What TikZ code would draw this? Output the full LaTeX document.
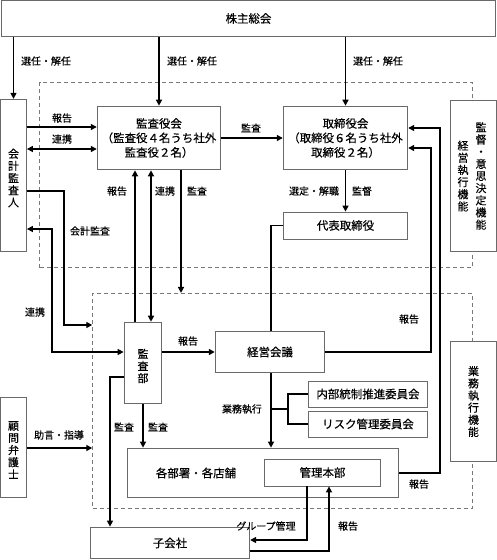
\documentclass[tikz,border=0pt]{standalone}
\usepackage{fontspec}
\setmainfont{Noto Sans CJK JP}[FakeBold=0.3]
\usetikzlibrary{arrows.meta}
\definecolor{boxgray}{HTML}{6A6A6A}
\definecolor{dashgray}{HTML}{787878}

\begin{document}
\begin{tikzpicture}[x=1bp,y=-1bp,
    box/.style={draw=boxgray, line width=0.9bp, fill=white, inner sep=0pt, align=center,
      font=\fontsize{11.5}{14.5}\selectfont},
    tate/.style={inner sep=0pt, align=center, font=\fontsize{11}{12.2}\selectfont},
    grp/.style={draw=dashgray, dash pattern=on 4bp off 3bp, line width=0.9bp, inner sep=0pt},
    wire/.style={line width=1.4bp},
    arr/.style={wire, -{Triangle[length=6bp,width=6bp]}},
    dblarr/.style={wire, {Triangle[length=6bp,width=6bp]}-{Triangle[length=6bp,width=6bp]}},
    lbl/.style={inner sep=0pt, font=\fontsize{10}{12}\selectfont}]
    \useasboundingbox (0,0) rectangle (497,560);

    %% dashed frames first, the side boxes sit on top of them
    \node[grp, minimum width=434, minimum height=186] (upper) at (256,175) {};
    \node[grp, minimum width=381, minimum height=216] (lower) at (282.5,401) {};

    %% boxes
    \node[box, minimum width=496, minimum height=37] (soukai) at (248.5,18.5) {株主総会};
    \node[box, minimum width=26, minimum height=153] (kaikei) at (13.5,175.5) {};
    \node[tate] (kaikeiT) at (13.5,178) {会\\計\\監\\査\\人};
    \node[box, minimum width=124, minimum height=64] (kansayakukai) at (159,138)
      {監査役会\\（監査役４名うち社外\\監査役２名）};
    \node[box, minimum width=125, minimum height=64] (torishimari) at (345.5,138)
      {取締役会\\（取締役６名うち社外\\取締役２名）};
    \node[box, minimum width=125, minimum height=27] (daihyo) at (345.5,225.5) {代表取締役};
    \node[box, minimum width=46, minimum height=152] (kantoku) at (473.5,176) {};
    \node[tate] (kantokuR) at (481,176) {監\\督\\・\\意\\思\\決\\定\\機\\能};
    \node[tate] (kantokuL) at (463,176) {経\\営\\執\\行\\機\\能};
    \node[box, minimum width=38, minimum height=82] (kansabu) at (143,363) {};
    \node[tate] (kansabuT) at (143,366) {監\\査\\部};
    \node[box, minimum width=110, minimum height=42] (keiei) at (270,352) {経営会議};
    \node[box, minimum width=120, minimum height=26] (naibu) at (368,394) {内部統制推進委員会};
    \node[box, minimum width=120, minimum height=26] (risk) at (368,424) {リスク管理委員会};
    \node[box, minimum width=272, minimum height=50] (kakubu) at (263,473) {};
    \node[inner sep=0pt, font=\fontsize{11.5}{14}\selectfont] (kakubuT) at (196,473) {各部署・各店舗};
    \node[box, minimum width=117, minimum height=27] (kanri) at (322.5,472.5) {管理本部};
    \node[box, minimum width=46, minimum height=121] (gyomu) at (473.5,401.5) {};
    \node[tate] (gyomuT) at (473.5,401.5) {業\\務\\執\\行\\機\\能};
    \node[box, minimum width=26, minimum height=101] (komon) at (13.5,447.5) {};
    \node[tate] (komonT) at (13.5,450) {顧\\問\\弁\\護\\士};
    \node[box, minimum width=160, minimum height=32] (kogaisha) at (170,543) {子会社};

    %% from the general meeting
    \draw[arr] (soukai.south -| kaikei.north) -- (kaikei.north);
    \draw[arr] (soukai.south -| kansayakukai.north) -- (kansayakukai.north);
    \draw[arr] (soukai.south -| torishimari.north) -- (torishimari.north);
    \node[lbl] (lSen1) at (46,61) {選任・解任};
    \node[lbl] (lSen2) at (192,61) {選任・解任};
    \node[lbl] (lSen3) at (378,61) {選任・解任};

    %% auditor and audit board
    \draw[arr] (kaikei.east |- 0,127) -- (kansayakukai.west |- 0,127);
    \draw[dblarr] (kaikei.east |- 0,149) -- (kansayakukai.west |- 0,149);
    \node[lbl] (lHou1) at (62,118) {報告};
    \node[lbl] (lRen1) at (62,139) {連携};
    \draw[arr] (kansayakukai.east |- 0,138) -- (torishimari.west |- 0,138);
    \node[lbl] (lKan1) at (251,128) {監査};

    %% audit board and internal audit
    \draw[arr] (kansabu.north -| 135,0) -- (kansayakukai.south -| 135,0);
    \draw[dblarr] (kansabu.north -| 151,0) -- (kansayakukai.south -| 151,0);
    \draw[arr] (kansayakukai.south -| 181,0) -- (lower.north -| 181,0);
    \node[lbl] (lHou2) at (117,191) {報告};
    \node[lbl] (lRen2) at (165,191) {連携};
    \node[lbl] (lKan2) at (197,191) {監査};

    %% board and representative director
    \draw[arr] (torishimari.south) -- (daihyo.north);
    \node[lbl] (lSentei) at (314,191) {選定・解職};
    \node[lbl] (lKantoku) at (362,191) {監督};
    \draw[wire] (daihyo.west) -| (keiei.north -| 271,0);

    %% accounting auditor routes
    \draw[arr] (kaikei.east |- 0,191) -| (64,325) -- (lower.west |- 0,325);
    \node[lbl] (lKaikei) at (90,231) {会計監査};
    \draw[dblarr] (kaikei.east |- 0,229) -| (52,352) -- (kansabu.west |- 0,352);
    \node[lbl] (lRen3) at (35,312) {連携};
    \draw[arr] (kansabu.east |- 0,352) -- (keiei.west |- 0,352);
    \node[lbl] (lHou3) at (188,341) {報告};

    %% execution
    \draw[arr] (keiei.south -| 271,0) -- (kakubu.north -| 271,0);
    \node[lbl] (lGyomu) at (242,409) {業務執行};
    \draw[wire] (271,409) -- (288,409);
    \draw[wire] (naibu.west) -| (288,409) |- (risk.west);

    %% reports back to the board
    \draw[arr] (keiei.east) -| (431,148) -- (torishimari.east |- 0,148);
    \node[lbl] (lHou4) at (409,319) {報告};
    \draw[arr] (kakubu.east) -| (440,128) -- (torishimari.east |- 0,128);
    \node[lbl] (lHou5) at (419,484) {報告};

    %% lawyer
    \draw[arr] (komon.east |- 0,448) -- (lower.west |- 0,448);
    \node[lbl] (lJogen) at (59,435) {助言・指導};

    %% internal audit downwards
    \draw[arr] (kansabu.west |- 0,377) -| (kogaisha.north -| 110,0);
    \node[lbl] (lKan3) at (124,427) {監査};
    \draw[arr] (kansabu.south) -- (kakubu.north -| kansabu.south);
    \node[lbl] (lKan4) at (158,427) {監査};

    %% subsidiaries
    \draw[arr] (kanri.south -| 307,0) |- (kogaisha.east |- 0,540);
    \node[lbl] (lGroup) at (266,526) {グループ管理};
    \draw[arr] (kogaisha.east |- 0,551) -| (kanri.south -| 329,0);
    \node[lbl] (lHou6) at (348,526) {報告};

\end{tikzpicture}
\end{document}
